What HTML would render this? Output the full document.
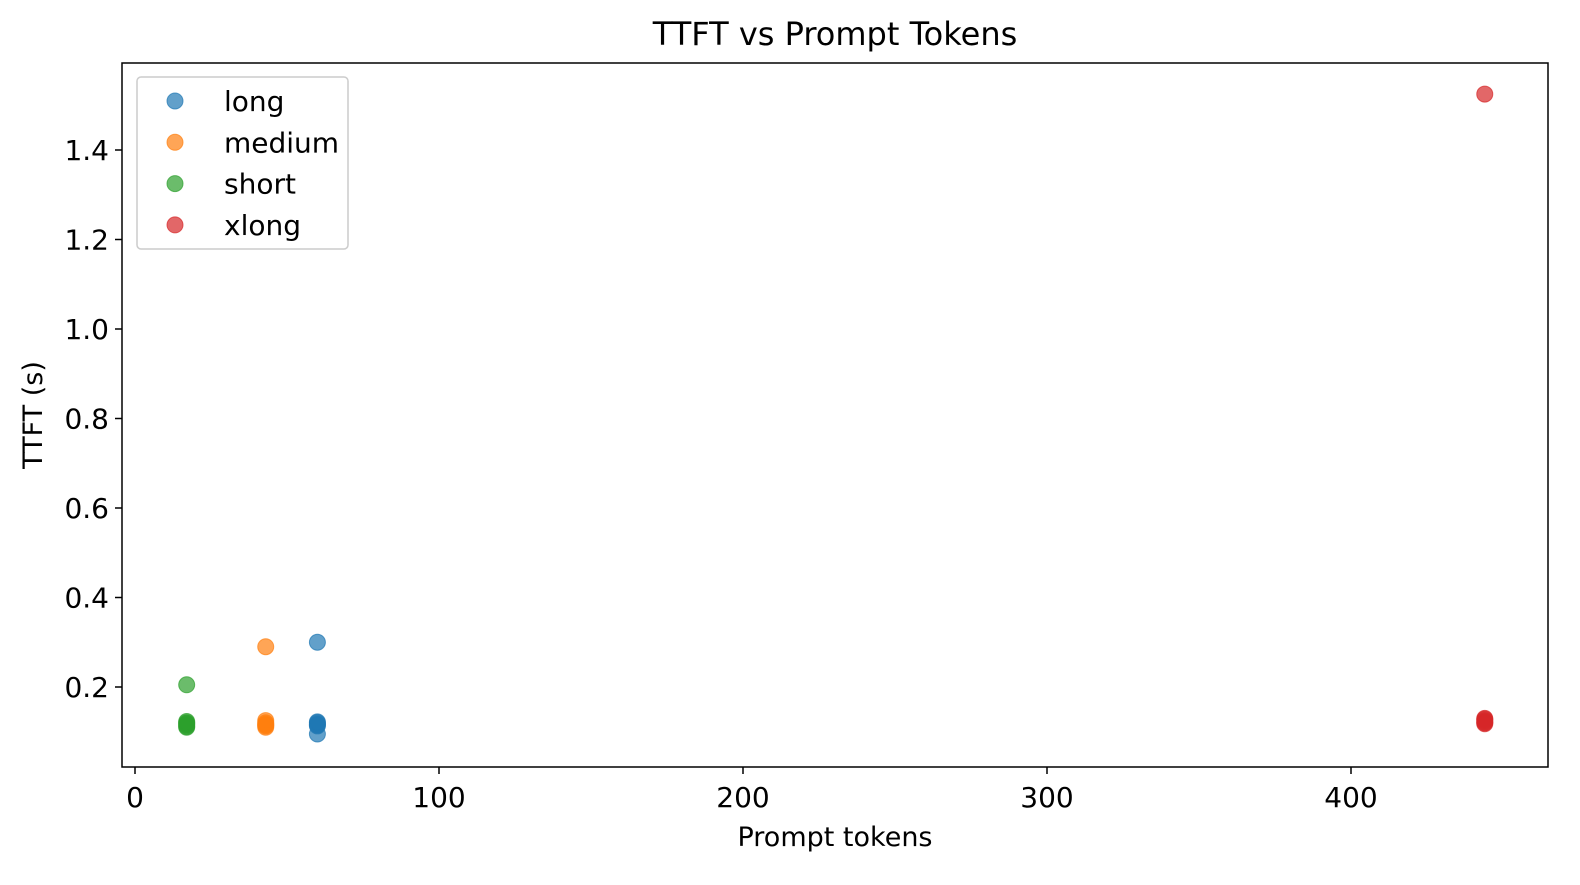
<!DOCTYPE html>
<html><head><meta charset="utf-8"><style>
body{margin:0;background:#fff}
svg text{font-family:"DejaVu Sans","Liberation Sans",sans-serif;fill:#000}
</style></head><body>
<svg id="chart" width="1580" height="880" xmlns="http://www.w3.org/2000/svg">
<rect width="1580" height="880" fill="#fff"/>
<text x="835" y="45" font-size="32" text-anchor="middle">TTFT vs Prompt Tokens</text>
<g id="plot"></g>
<rect x="122" y="63" width="1426" height="704" fill="none" stroke="#000" stroke-width="1.5"/>
<text x="835" y="846" font-size="27" text-anchor="middle">Prompt tokens</text>
<text x="42" y="415" font-size="27" text-anchor="middle" transform="rotate(-90 42 415)">TTFT (s)</text>
<g id="legend">
<rect x="137" y="77" width="211" height="172" rx="4" fill="#fff" fill-opacity="0.8" stroke="#ccc" stroke-width="1.5"/>
</g>
</svg>
<script>
const seriesNames=["long","medium","short","xlong"];
const colors=["#1f77b4","#ff7f0e","#2ca02c","#d62728"];
const longX=[60,60,60,60,60,60,60];
const longY=[0.30,0.095,0.113,0.117,0.12,0.122,0.115];
const mediumX=[43,43,43,43,43,43,43];
const mediumY=[0.29,0.11,0.113,0.117,0.12,0.125,0.115];
const shortX=[17,17,17,17,17,17,17];
const shortY=[0.205,0.11,0.112,0.115,0.12,0.123,0.118];
const xlongX=[444,444,444,444,444,444,444];
const xlongY=[1.525,0.12,0.125,0.13,0.122,0.128,0.118];
const xTicks=[0,100,200,300,400];
const yTicks=[0.2,0.4,0.6,0.8,1.0,1.2,1.4];
const yTickLabels=["0.2","0.4","0.6","0.8","1.0","1.2","1.4"];
const NS="http://www.w3.org/2000/svg";
const xS=v=>135+v*3.04;
const yS=v=>687-(v-0.2)*447.5;
const svg=document.getElementById('chart');
const plot=document.getElementById('plot');
function mk(t,a,p){const e=document.createElementNS(NS,t);for(const k in a)e.setAttribute(k,a[k]);(p||svg).appendChild(e);return e;}
xTicks.forEach(v=>{
  const l=mk('line',{x1:xS(v),x2:xS(v),y1:767,y2:774,stroke:'#000','stroke-width':1.5});
  
  
  const t=mk('text',{x:xS(v),y:807,'font-size':28,'text-anchor':'middle'});t.textContent=v;
  
  
});
yTicks.forEach((v,i)=>{
  const l=mk('line',{x1:115,x2:122,y1:yS(v),y2:yS(v),stroke:'#000','stroke-width':1.5});
  
  
  const t=mk('text',{x:109,y:yS(v)+10,'font-size':28,'text-anchor':'end'});t.textContent=yTickLabels[i];
  
  
});
const data=[[longX,longY],[mediumX,mediumY],[shortX,shortY],[xlongX,xlongY]];
data.forEach((d,s)=>{
  d[0].forEach((x,i)=>{
    const c=mk('circle',{cx:xS(x),cy:yS(d[1][i]),r:8,fill:colors[s],'fill-opacity':0.7,stroke:colors[s],'stroke-opacity':0.7,'stroke-width':1},plot);
    
    
  });
});
const lg=document.getElementById('legend');
seriesNames.forEach((n,i)=>{
  const y=101+i*41.3;
  const c=mk('circle',{cx:175,cy:y,r:8,fill:colors[i],'fill-opacity':0.7,stroke:colors[i],'stroke-opacity':0.7},lg);
  
  
  const t=mk('text',{x:224,y:y+10,'font-size':28},lg);t.textContent=n;
  
  
});
</script>
</body></html>
